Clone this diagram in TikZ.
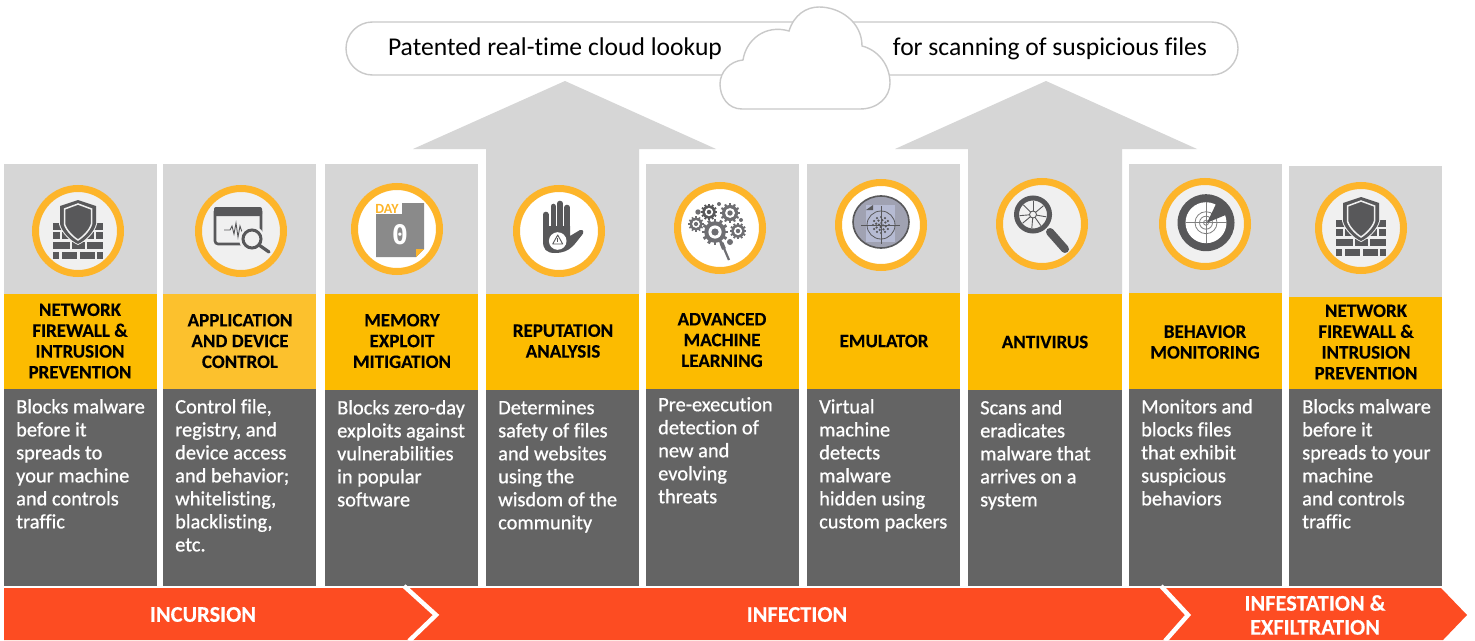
\documentclass[tikz,border=0pt]{standalone}
\usepackage{fontspec}
\setmainfont[Ligatures=NoCommon]{Carlito}
\newfontfamily\zerofont{DejaVu Sans Mono}
\newfontfamily\bodyfont[FakeBold=0.8,Ligatures=NoCommon]{Carlito}
\newfontfamily\headfont[BoldFont={Carlito Bold},BoldFeatures={FakeBold=0.25},Ligatures=NoCommon]{Carlito}
\definecolor{panelgray}{HTML}{D6D6D6}
\definecolor{headyellow}{HTML}{FCBB00}
\definecolor{headyellowb}{HTML}{FCC12D}
\definecolor{bodydark}{HTML}{646464}
\definecolor{bandred}{HTML}{FD4C22}
\definecolor{ringorange}{HTML}{FDB52A}
\definecolor{icondark}{HTML}{58585A}
\definecolor{iconmid}{HTML}{6E6E72}
\definecolor{iconlight}{HTML}{F0F0F0}
\definecolor{cloudline}{HTML}{C9C9C9}
\definecolor{emuback}{HTML}{A0A2B2}
\definecolor{emupage}{HTML}{B6BBD3}
\definecolor{dayback}{HTML}{8A8A8A}
\tikzset{
  x=1pt,y=-1pt,
  headtext/.style={font=\headfont\fontsize{19}{20.8}\selectfont\bfseries,align=center,text=black,inner sep=0pt},
  bodytext/.style={font=\bodyfont\fontsize{20.4}{23}\selectfont,align=left,text=white,inner sep=0pt,anchor=north west},
  bandtext/.style={font=\headfont\fontsize{22.4}{24}\selectfont\bfseries,align=center,text=white,inner sep=0pt},
  pilltext/.style={font=\fontsize{25.6}{28}\selectfont,text=black,inner sep=0pt},
  ring/.style={draw=ringorange,line width=7pt,fill=#1},
}
\newcommand{\iconring}[3]{\draw[ring=#3] (#1,#2) circle[radius=42.5];}
\newcommand{\gearat}[4]{%
  \foreach \a in {0,30,...,330}{\draw[#4,line width=#3*0.24pt] (#1,#2) ++(\a:#3*0.78) -- ++(\a:#3*0.32);}
  \fill[#4] (#1,#2) circle[radius=#3*0.9];
  \fill[white] (#1,#2) circle[radius=#3*0.55];
  \fill[#4] (#1,#2) circle[radius=#3*0.3];
}
\newcommand{\wallicon}{%
  \foreach \yy/\hh/\xa/\xb in {-8/7/-25/-8,-8/7/8/25,1/7/-25/-18,1/7/-16/-8,1/7/8/16,1/7/18/25,11/6.5/-25/-8,11/6.5/9/25,11/6.5/-6/7,21/7/-25/-19,21/7/-16/-1,21/7/2/17,21/7/19/25}{
    \fill[icondark] (\xa,\yy) rectangle (\xb,\yy+\hh);}
  \path[fill=iconlight] (-19,-26) -- (0,-32) -- (19,-26) -- (19,-7) .. controls (17,2) and (7,11) .. (0,14) .. controls (-7,11) and (-17,2) .. (-19,-7) -- cycle;
  \path[fill=icondark] (-18,-25) -- (0,-31) -- (18,-25) -- (18,-7) .. controls (16,1) and (7,10) .. (0,13) .. controls (-7,10) and (-16,1) .. (-18,-7) -- cycle;
  \path[draw=iconlight,line width=1.5pt] (-13.5,-22) -- (0,-27) -- (13.5,-22) -- (13.5,-7) .. controls (12,-1) and (5,6) .. (0,9) .. controls (-5,6) and (-12,-1) .. (-13.5,-7) -- cycle;
}
\begin{document}
\begin{tikzpicture}
\useasboundingbox (0,0) rectangle (1475,640);
\fill[white] (0,0) rectangle (1475,640);

% arrows to the cloud lookup
\fill[panelgray] (565,81) -- (716,149) -- (639,149) -- (639,294) -- (486,294) -- (486,149) -- (413,149) -- cycle;
\fill[panelgray] (1046,81) -- (1197,149) -- (1122,149) -- (1122,294) -- (968,294) -- (968,149) -- (895,149) -- cycle;

% columns: left/right/top/yellow/dark
\foreach \xa/\xb/\ya/\yb/\yc in {4/157/164/294/389,163/316/164/294/389,325/478/164/294/390,486/639/164/294/390,646/799/164/293/389,807/960/164/293/389,968/1122/164/294/390,1129/1282/164/293/389,1289/1442/166/297/389}{
  \fill[panelgray] (\xa,\ya) rectangle (\xb,\yb);
  \fill[headyellow] (\xa,\yb) rectangle (\xb,\yc);
  \fill[bodydark] (\xa,\yc) rectangle (\xb,586);
}
\fill[headyellowb] (163,294) rectangle (316,389);

% cloud bar
\draw[cloudline,line width=1.4pt,fill=white,rounded corners=26.5pt] (346,22) rectangle (1238,75);
\draw[cloudline,line width=1.4pt,fill=white] (742,109) .. controls (728,109) and (720,97) .. (720,84) .. controls (720,72) and (730,61) .. (743,60) .. controls (746,40) and (765,24) .. (789,31) .. controls (794,15) and (806,7) .. (819,7) .. controls (840,7) and (862,22) .. (862,46) .. controls (878,50) and (890,65) .. (890,83) .. controls (890,97) and (878,109) .. (860,109) -- cycle;
\node[pilltext] (lookupl) at (555,49) {Patented real-time cloud lookup};
\node[pilltext] (lookupr) at (1050,49) {for scanning of suspicious files};

% rings
\iconring{78}{231}{iconlight}
\iconring{241}{231}{iconlight}
\iconring{397}{229}{white}
\iconring{559}{231}{white}
\iconring{720}{228}{white}
\iconring{881}{225}{white}
\iconring{1042}{224}{iconlight}
\iconring{1205}{224}{iconlight}
\iconring{1361}{228}{iconlight}

% firewall icons
\begin{scope}[shift={(78,231)}]\wallicon\end{scope}
\begin{scope}[shift={(1361,228)}]\wallicon\end{scope}

% application control icon
\begin{scope}[shift={(241,231)}]
  \draw[icondark,line width=2.6pt,rounded corners=3pt] (-26,-22.5) rectangle (20,13);
  \fill[icondark,rounded corners=2pt] (-27,-24) rectangle (21,-15);
  \draw[icondark,line width=0.9pt] (-17,-1) -- (-11,-1) -- (-9,-5) -- (-7,3) -- (-5,-8) -- (-3,6) -- (-1,-5) -- (1,1) -- (3,-1) -- (8,-1);
  \fill[iconlight] (11,8) circle[radius=13];
  \draw[icondark,line width=3pt] (11,8) circle[radius=9];
  \draw[icondark,line width=3.2pt,line cap=round] (18,14) -- (28,21);
\end{scope}

% day zero icon
\begin{scope}[shift={(397,229)}]
  \fill[dayback] (-21,-15) -- (5,-15) -- (5,-26) -- (27,-26) -- (27,20) -- (19,28) -- (-21,28) -- cycle;
  \fill[ringorange] (27,20) -- (19,28) -- (19,20) -- cycle;
  \node[font=\fontsize{14}{14}\selectfont\bfseries,text=ringorange,inner sep=0pt] (dayword) at (-10,-20.5) {DAY};
  \node[font=\zerofont\fontsize{27}{27}\selectfont\bfseries,text=white,inner sep=0pt] (dayzero) at (3,6) {0};
\end{scope}

% reputation hand icon
\begin{scope}[shift={(559,231)}]
  \draw[icondark,line width=5.6pt,line cap=round] (-13.3,0) -- (-13.3,-16.5);
  \draw[icondark,line width=5.6pt,line cap=round] (-5.7,0) -- (-5.7,-24.5);
  \draw[icondark,line width=5.6pt,line cap=round] (1,0) -- (1,-27.5);
  \draw[icondark,line width=5.6pt,line cap=round] (8,0) -- (8,-23.5);
  \fill[icondark] (-16,-5) -- (11,-5) -- (11,5) -- (21,-1) .. controls (25,-2) and (25,2) .. (23,4) .. controls (16,12) and (12,22) .. (-4,22) .. controls (-13,22) and (-16,18) .. (-16,10) -- cycle;
  \fill[white] (-1.3,10) circle[radius=8.8];
  \draw[icondark,line width=0.9pt,line join=round] (-1.3,4) -- (3.7,13) -- (-6.3,13) -- cycle;
  \draw[icondark,line width=0.9pt] (-1.3,7) -- (-1.3,10.5);
\end{scope}

% machine learning gears
\begin{scope}[shift={(720,228)}]
  \gearat{-11}{-16}{7.5}{icondark}
  \gearat{10}{-15}{9}{iconmid}
  \gearat{-24}{-4}{7}{iconmid}
  \gearat{18}{3}{7.5}{iconmid}
  \gearat{-5}{4}{12}{iconmid}
  \fill[iconmid] (-22,-16) circle[radius=2.7] (21,-8) circle[radius=2] (10,14) circle[radius=3] (-1,-24) circle[radius=2];
  \draw[iconmid,line width=2.2pt] (3,18) -- (9,32);
  \draw[iconmid,line width=4pt] (1.5,15) -- (4,21);
\end{scope}

% emulator icon
\begin{scope}[shift={(881,225)}]
  \draw[icondark,line width=1.6pt,fill=emuback] (0,-3) ellipse[x radius=28,y radius=26];
  \fill[emupage] (-15,-20) rectangle (14,17);
  \draw[icondark,line width=0.8pt] (0,0) circle[radius=14];
  \draw[icondark,line width=0.8pt] (-20,0) -- (19,0) (0,-19) -- (0,19);
  \fill[icondark] (-15,-15) -- (-8,-20) -- (-8,-15) -- cycle;
  \foreach \a in {0,30,...,330}{\fill[icondark] (\a:8) circle[radius=1.2];}
  \foreach \a in {15,60,...,345}{\fill[icondark] (\a:5) circle[radius=1.3];}
  \foreach \a in {10,100,190,280}{\fill[icondark] (\a:2) circle[radius=1.3];}
\end{scope}

% antivirus icon
\begin{scope}[shift={(1042,224)}]
  \draw[icondark,line width=8pt,line cap=round] (8,8) -- (23,25);
  \draw[icondark,line width=5pt,fill=iconlight] (-9,-9.5) circle[radius=16.5];
  \foreach \a in {10,55,95,140,175,225,270,320}{
    \draw[icondark,line width=0.9pt] (-9,-9.5) ++(\a:3.5) -- ++(\a:10);}
  \draw[icondark,line width=0.9pt] (-9,-9.5) circle[radius=3.5];
\end{scope}

% behavior radar icon
\begin{scope}[shift={(1205,224)}]
  \fill[icondark] (1,-1.3) circle[radius=28.5];
  \fill[white] (1,-1.3) circle[radius=20.5];
  \draw[gray,line width=0.8pt] (1,-1.3) circle[radius=11] (1,-1.3) circle[radius=6.5] (1,-1.3) circle[radius=2.5];
  \draw[gray,line width=0.8pt] (-19.5,-1.3) -- (21.5,-1.3) (1,-22) -- (1,19);
  \fill[icondark] (2,-1.3) -- (23,-10) -- (12,-22) -- cycle;
\end{scope}

% headings
\node[headtext] (h1) at (80,341) {NETWORK\\FIREWALL \&\\INTRUSION\\PREVENTION};
\node[headtext] (h2) at (240,341) {APPLICATION\\AND DEVICE\\CONTROL};
\node[headtext] (h3) at (402,341) {MEMORY\\EXPLOIT\\MITIGATION};
\node[headtext] (h4) at (563,341) {REPUTATION\\ANALYSIS};
\node[headtext] (h5) at (722,340) {ADVANCED\\MACHINE\\LEARNING};
\node[headtext] (h6) at (884,341) {EMULATOR};
\node[headtext] (h7) at (1045,342) {ANTIVIRUS};
\node[headtext] (h8) at (1205,342) {BEHAVIOR\\MONITORING};
\node[headtext] (h9) at (1366,342) {NETWORK\\FIREWALL \&\\INTRUSION\\PREVENTION};

% body texts
\node[bodytext] (b1) at (16,399) {Blocks malware\\before it\\spreads to\\your machine\\and controls\\traffic};
\node[bodytext] (b2) at (175,399) {Control file,\\registry, and\\device access\\and behavior;\\whitelisting,\\blacklisting,\\etc.};
\node[bodytext] (b3) at (337,400) {Blocks zero-day\\exploits against\\vulnerabilities\\in popular\\software};
\node[bodytext] (b4) at (498,400) {Determines\\safety of files\\and websites\\using the\\wisdom of the\\community};
\node[bodytext] (b5) at (658,397) {Pre-execution\\detection of\\new and\\evolving\\threats};
\node[bodytext] (b6) at (819,399) {Virtual\\machine\\detects\\malware\\hidden using\\custom packers};
\node[bodytext] (b7) at (980,400) {Scans and\\eradicates\\malware that\\arrives on a\\system};
\node[bodytext] (b8) at (1141,399) {Monitors and\\blocks files\\that exhibit\\suspicious\\behaviors};
\node[bodytext] (b9) at (1302,399) {Blocks malware\\before it\\spreads to your\\machine\\and controls\\traffic};

% stage band
\fill[bandred] (4,588) -- (1441,588) -- (1467,615) -- (1443,640) -- (4,640) -- cycle;
\draw[white,line width=4.5pt] (404,586) -- (436,615) -- (409,641);
\draw[white,line width=4.5pt] (1161,586) -- (1188,615) -- (1165,641);
\node[bandtext] (s1) at (203,614.5) {INCURSION};
\node[bandtext] (s2) at (797,614.5) {INFECTION};
\node[bandtext] (s3) at (1315,615) {INFESTATION \&\\EXFILTRATION};
\end{tikzpicture}
\end{document}
